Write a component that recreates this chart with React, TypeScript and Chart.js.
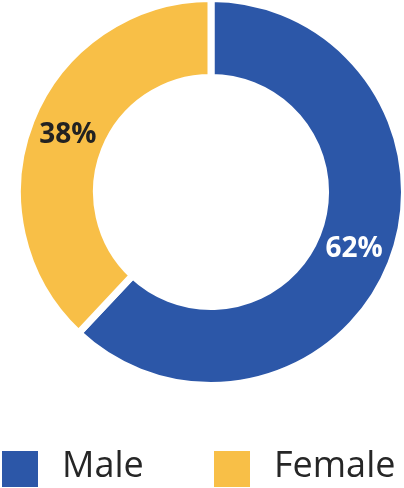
import React, { useEffect, useRef } from "react";
import { Chart, registerables } from "chart.js";

Chart.register(...registerables);

const categories = ["Male", "Female"];
const values = [62, 38];
const colors = ["#2C57A8", "#F8BF47"];
const labelColors = ["#FFFFFF", "#222222"];

const FONT = "'Open Sans', 'Noto Sans', sans-serif";

const valueLabels = {
  id: "valueLabels",
  afterDatasetsDraw(chart: any) {
    const ctx = chart.ctx;
    const meta = chart.getDatasetMeta(0);
    ctx.save();
    ctx.font = `bold 28px ${FONT}`;
    ctx.textAlign = "center";
    ctx.textBaseline = "middle";
    meta.data.forEach((arc: any, i: number) => {
      const p = arc.tooltipPosition();
      ctx.fillStyle = labelColors[i];
      ctx.fillText(`${values[i]}%`, p.x, p.y);
    });
    ctx.restore();
  },
};

const customLegend = {
  id: "customLegend",
  afterDraw(chart: any) {
    const ctx = chart.ctx;
    const ds = chart.data.datasets[0];
    const labels = chart.data.labels as string[];
    const boxSize = 36;
    const boxTop = 451;
    const itemX = [2, 214];
    ctx.save();
    ctx.font = `36px ${FONT}`;
    ctx.textBaseline = "alphabetic";
    ctx.textAlign = "left";
    labels.forEach((lab, i) => {
      ctx.fillStyle = ds.backgroundColor[i];
      ctx.fillRect(itemX[i], boxTop, boxSize, boxSize);
      ctx.fillStyle = "#262626";
      ctx.fillText(lab, itemX[i] + boxSize + 24, 477);
    });
    ctx.restore();
  },
};

export default function App() {
  const ref = useRef<HTMLCanvasElement>(null);
  useEffect(() => {
    document.body.style.margin = "0";
    const chart = new Chart(ref.current!, {
      type: "doughnut",
      data: {
        labels: categories,
        datasets: [
          {
            data: values,
            backgroundColor: colors,
            borderColor: "#FFFFFF",
            borderWidth: 7,
            hoverOffset: 0,
          },
        ],
      },
      options: {
        animation: false,
        responsive: true,
        maintainAspectRatio: false,
        radius: 193.5,
        cutout: "59.2%",
        layout: { padding: { left: 18, right: 0, top: 0, bottom: 104 } },
        plugins: {
          legend: { display: false },
          tooltip: { enabled: false },
        },
      } as any,
      plugins: [valueLabels, customLegend],
    });
    return () => chart.destroy();
  }, []);
  return (
    <div style={{ position: "relative", width: 404, height: 488 }}>
      <canvas ref={ref} />
    </div>
  );
}
